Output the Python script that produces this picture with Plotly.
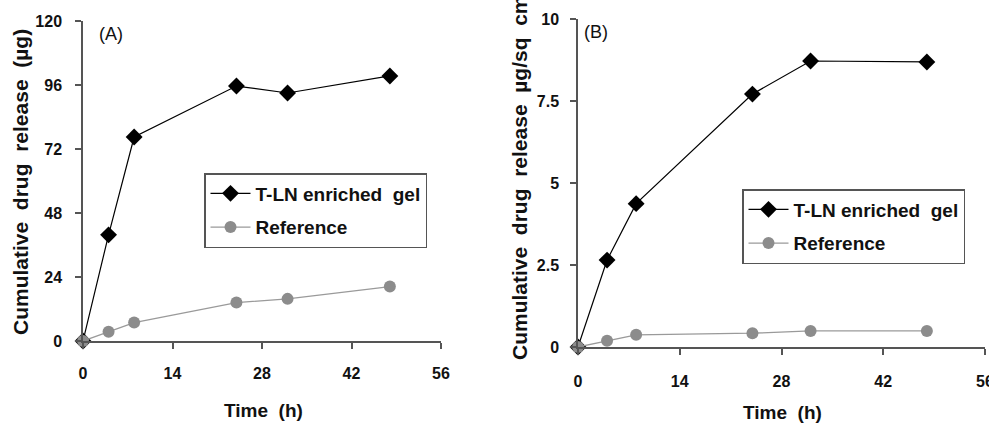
import plotly.graph_objects as go

time_h = [0, 4, 8, 24, 32, 48]
tln_a = [0, 39.8, 76.5, 95.6, 93.0, 99.4]
ref_a = [0, 3.5, 6.9, 14.4, 15.8, 20.4]
tln_b = [0, 2.65, 4.37, 7.71, 8.72, 8.69]
ref_b = [0, 0.19, 0.37, 0.42, 0.49, 0.49]

x_ticks = [0, 14, 28, 42, 56]
ya_ticks = [0, 24, 48, 72, 96, 120]
yb_ticks = [0, 2.5, 5, 7.5, 10]
yb_labels = ["0", "2.5", "5", "7.5", "10"]

names = ["T-LN enriched  gel", "Reference"]

W, H = 989, 425
FONT = "Liberation Sans, Arial, sans-serif"

def px(x):
    return x / W

def py(y):
    return (H - y) / H

fig = go.Figure()

def add(x, y, name, xa, ya, legend, black):
    if black:
        line = dict(color="#000000", width=1.2)
        marker = dict(symbol="diamond", size=13, color="#000000")
    else:
        line = dict(color="#9a9a9a", width=1.3)
        marker = dict(symbol="circle", size=12, color="#8c8c8c")
    fig.add_trace(go.Scatter(
        x=x, y=y, name=name, mode="lines+markers", line=line, marker=marker,
        xaxis=xa, yaxis=ya, legend=legend, cliponaxis=False,
        legendgroup=name + legend,
    ))

add(time_h, tln_a, names[0], "x", "y", "legend", True)
add(time_h, ref_a, names[1], "x", "y", "legend", False)
add(time_h, tln_b, names[0], "x2", "y2", "legend2", True)
add(time_h, ref_b, names[1], "x2", "y2", "legend2", False)

axis_common = dict(
    showgrid=False, zeroline=False, showline=True, linecolor="#555555", linewidth=1.5,
    ticks="outside", ticklen=6, tickwidth=1.5, tickcolor="#555555",
    tickfont=dict(family=FONT, size=16, color="#111111", weight="bold"),
    automargin=False, fixedrange=True, ticklabeloverflow="allow",
)

fig.update_layout(
    width=W, height=H,
    margin=dict(l=0, r=0, t=0, b=0),
    paper_bgcolor="white", plot_bgcolor="white",
    xaxis=dict(domain=[px(83), px(441)], range=[0, 56], tickvals=x_ticks,
               anchor="y", ticklabelstandoff=11, **axis_common),
    yaxis=dict(domain=[py(341), py(21)], range=[0, 120], tickvals=ya_ticks,
               anchor="x", ticklabelstandoff=10, **axis_common),
    xaxis2=dict(domain=[px(578), px(985)], range=[0, 56], tickvals=x_ticks,
                anchor="y2", ticklabelstandoff=13, **axis_common),
    yaxis2=dict(domain=[py(347), py(19)], range=[0, 10], tickvals=yb_ticks,
                ticktext=yb_labels, anchor="x2", ticklabelstandoff=8, **axis_common),
    legend=dict(x=px(204), y=py(173), xanchor="left", yanchor="top",
                bordercolor="#555555", borderwidth=1.5, bgcolor="white",
                font=dict(family=FONT, size=19, color="#111111", weight="bold"),
                tracegroupgap=6, itemwidth=40),
    legend2=dict(x=px(742), y=py(189), xanchor="left", yanchor="top",
                 bordercolor="#555555", borderwidth=1.5, bgcolor="white",
                 font=dict(family=FONT, size=19, color="#111111", weight="bold"),
                 tracegroupgap=6, itemwidth=40),
    showlegend=True,
)

def note(text, x, y, size, bold=True, angle=0, xanchor="center"):
    f = dict(family=FONT, size=size, color="#111111")
    if bold:
        f["weight"] = "bold"
    fig.add_annotation(text=text, x=px(x), y=py(y), xref="paper", yref="paper",
                       xanchor=xanchor, yanchor="middle", textangle=angle,
                       showarrow=False, font=f)

note("Cumulative  drug  release  (µg)", 20, 182, 21, angle=-90)
note("Cumulative  drug  release  µg/sq  cm", 519, 178, 21, angle=-90)
note("Time  (h)", 263, 410, 19)
note("Time  (h)", 782, 412, 19)
note("(A)", 97, 34, 18, bold=False, xanchor="left")
note("(B)", 582, 32, 18, bold=False, xanchor="left")

fig.write_html("out.html")
